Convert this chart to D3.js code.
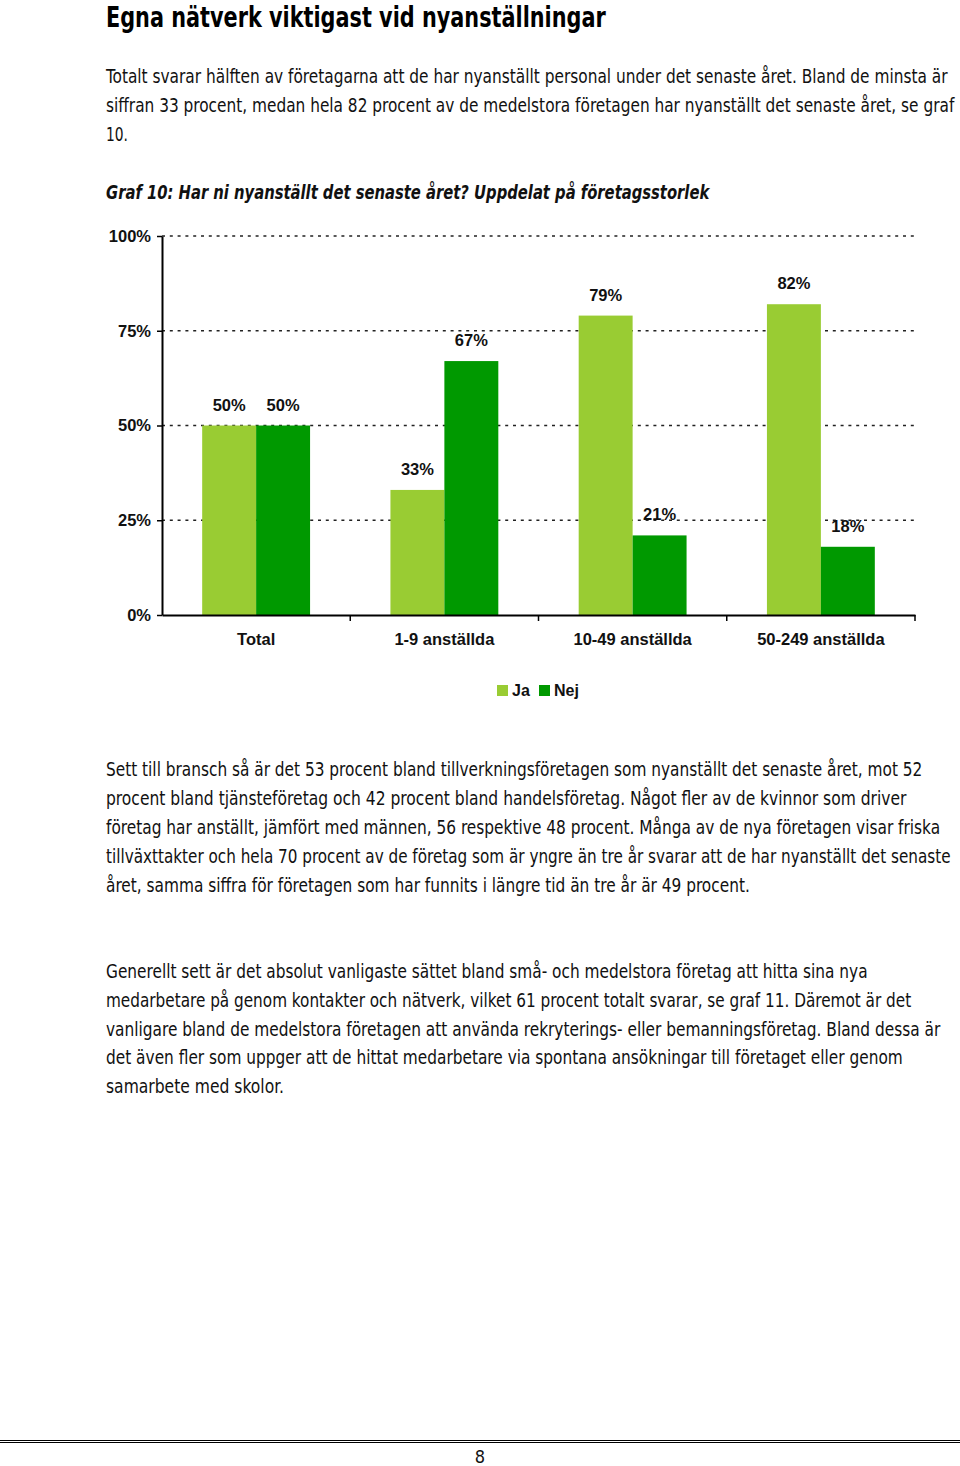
<!DOCTYPE html>
<html>
<head>
<meta charset="utf-8">
<script src="https://cdn.jsdelivr.net/npm/d3@7"></script>
<style>
  html, body { margin: 0; padding: 0; background: #fff; }
  svg { display: block; }
</style>
</head>
<body>
<svg id="page" width="960" height="1466"></svg>
<script>
// ---- Data ----
const categories = ["Total", "1-9 anställda", "10-49 anställda", "50-249 anställda"];
const seriesNames = ["Ja", "Nej"];
const jaValues = [50, 33, 79, 82];
const nejValues = [50, 67, 21, 18];
const yTickValues = [0, 25, 50, 75, 100];
const yTickLabels = ["0%", "25%", "50%", "75%", "100%"];
const gridValues = [25, 50, 75, 100];

const titleText = "Egna nätverk viktigast vid nyanställningar";
const para1 = [
  ["Totalt svarar hälften av företagarna att de har nyanställt personal under det senaste året. Bland de minsta är", 842],
  ["siffran 33 procent, medan hela 82 procent av de medelstora företagen har nyanställt det senaste året, se graf", 849],
  ["10.", 22]
];
const chartTitle = "Graf 10: Har ni nyanställt det senaste året? Uppdelat på företagsstorlek";
const para2 = [
  ["Sett till bransch så är det 53 procent bland tillverkningsföretagen som nyanställt det senaste året, mot 52", 817],
  ["procent bland tjänsteföretag och 42 procent bland handelsföretag. Något fler av de kvinnor som driver", 801],
  ["företag har anställt, jämfört med männen, 56 respektive 48 procent. Många av de nya företagen visar friska", 835],
  ["tillväxttakter och hela 70 procent av de företag som är yngre än tre år svarar att de har nyanställt det senaste", 845],
  ["året, samma siffra för företagen som har funnits i längre tid än tre år är 49 procent.", 644]
];
const para3 = [
  ["Generellt sett är det absolut vanligaste sättet bland små- och medelstora företag att hitta sina nya", 762],
  ["medarbetare på genom kontakter och nätverk, vilket 61 procent totalt svarar, se graf 11. Däremot är det", 806],
  ["vanligare bland de medelstora företagen att använda rekryterings- eller bemanningsföretag. Bland dessa är", 835],
  ["det även fler som uppger att de hittat medarbetare via spontana ansökningar till företaget eller genom", 797],
  ["samarbete med skolor.", 178]
];

const colors = { Ja: "#99CC33", Nej: "#009900" };
const bodyFont = "'DejaVu Sans Condensed', 'Roboto', sans-serif";
const chartFont = "'Liberation Sans', Arial, sans-serif";

const svg = d3.select("#page");

// fit a text horizontally into a target width by scaling its group
function fitText(sel, x, yb, width) {
  sel.each(function() {
    const natural = this.getComputedTextLength();
    const sx = width / natural;
    d3.select(this).attr("transform", `translate(${x},${yb}) scale(${sx},1)`);
  });
}

// ---- Text blocks ----
const title = svg.append("text")
  .attr("font-family", bodyFont).attr("font-size", 28).attr("font-weight", "bold")
  .attr("fill", "#000")
  .text(titleText);
fitText(title, 106, 27, 500);

function paragraph(lines, y0, lh) {
  svg.append("g").selectAll("text").data(lines).join("text")
    .attr("font-family", bodyFont).attr("font-size", 19.5)
    .attr("fill", "#111")
    .text(d => d[0])
    .each(function(d, i) { fitText(d3.select(this), 106, y0 + i * lh, d[1]); });
}
paragraph(para1, 83, 29);
paragraph(para2, 776, 29);
paragraph(para3, 978, 28.8);

const gt = svg.append("text")
  .attr("font-family", bodyFont).attr("font-size", 19.5)
  .attr("font-weight", "bold").attr("font-style", "italic")
  .attr("fill", "#111")
  .text(chartTitle);
fitText(gt, 106, 199, 604);

// ---- Chart ----
const x = d3.scaleBand().domain(categories).range([162, 915]).paddingInner(0).paddingOuter(0);
const xs = d3.scaleBand().domain(seriesNames).range([0, x.bandwidth()]).paddingInner(0).paddingOuter(0.745);
const y = d3.scaleLinear().domain([0, 100]).range([615, 236]);

const chart = svg.append("g");

// gridlines
chart.append("g").selectAll("line").data(gridValues).join("line")
  .attr("x1", 162).attr("x2", 915)
  .attr("y1", d => y(d)).attr("y2", d => y(d))
  .attr("stroke", "#222").attr("stroke-width", 1.6)
  .attr("stroke-dasharray", "3,4.8");

// bars
const rows = categories.map((c, i) => ({ cat: c, values: [
  { s: "Ja", v: jaValues[i] }, { s: "Nej", v: nejValues[i] }
]}));

const groups = chart.append("g").selectAll("g").data(rows).join("g")
  .attr("transform", d => `translate(${x(d.cat)},0)`);

groups.selectAll("rect").data(d => d.values).join("rect")
  .attr("x", d => xs(d.s))
  .attr("width", xs.bandwidth())
  .attr("y", d => y(d.v))
  .attr("height", d => y(0) - y(d.v))
  .attr("fill", d => colors[d.s]);

groups.selectAll("text").data(d => d.values).join("text")
  .attr("x", d => xs(d.s) + xs.bandwidth() / 2)
  .attr("y", d => y(d.v) - 15)
  .attr("text-anchor", "middle")
  .attr("font-family", chartFont).attr("font-size", 16.5).attr("font-weight", "bold")
  .attr("fill", "#111")
  .text(d => d.v + "%");

// y axis
const yAxis = chart.append("g")
  .attr("transform", "translate(162,0)")
  .call(d3.axisLeft(y).tickValues(yTickValues).tickFormat((d, i) => yTickLabels[i]).tickSize(5).tickSizeOuter(0).tickPadding(6));
yAxis.select(".domain").attr("stroke", "#000").attr("stroke-width", 2);
yAxis.selectAll(".tick line").attr("stroke", "#000").attr("stroke-width", 1.5);
yAxis.selectAll(".tick text")
  .attr("font-family", chartFont).attr("font-size", 16.5).attr("font-weight", "bold").attr("fill", "#111");

// x axis
const xAxis = chart.append("g")
  .attr("transform", `translate(0,${y(0)})`)
  .call(d3.axisBottom(x).tickSize(0).tickSizeOuter(0).tickPadding(18));
xAxis.select(".domain").attr("stroke", "#000").attr("stroke-width", 2);
xAxis.selectAll(".tick text")
  .attr("font-family", chartFont).attr("font-size", 16.5).attr("font-weight", "bold").attr("fill", "#111");
xAxis.selectAll("line.bound").data(categories).join("line").attr("class", "bound")
  .attr("x1", d => x(d) + x.bandwidth()).attr("x2", d => x(d) + x.bandwidth())
  .attr("y1", 0).attr("y2", 6)
  .attr("stroke", "#000").attr("stroke-width", 1.5);

// legend
const legendX = [497, 539];
const legend = chart.append("g").selectAll("g").data(seriesNames).join("g")
  .attr("transform", (d, i) => `translate(${legendX[i]},685)`);
legend.append("rect").attr("width", 11).attr("height", 11).attr("fill", d => colors[d]);
legend.append("text").attr("x", 15).attr("y", 11)
  .attr("font-family", chartFont).attr("font-size", 16).attr("font-weight", "bold").attr("fill", "#111")
  .text(d => d);

// footer
svg.append("line").attr("x1", 0).attr("x2", 960).attr("y1", 1440.5).attr("y2", 1440.5).attr("stroke", "#000").attr("stroke-width", 1);
svg.append("line").attr("x1", 0).attr("x2", 960).attr("y1", 1442.5).attr("y2", 1442.5).attr("stroke", "#000").attr("stroke-width", 1);
svg.append("text").attr("x", 480).attr("y", 1463).attr("text-anchor", "middle")
  .attr("font-family", bodyFont).attr("font-size", 18).attr("fill", "#111").text("8");
</script>
</body>
</html>
